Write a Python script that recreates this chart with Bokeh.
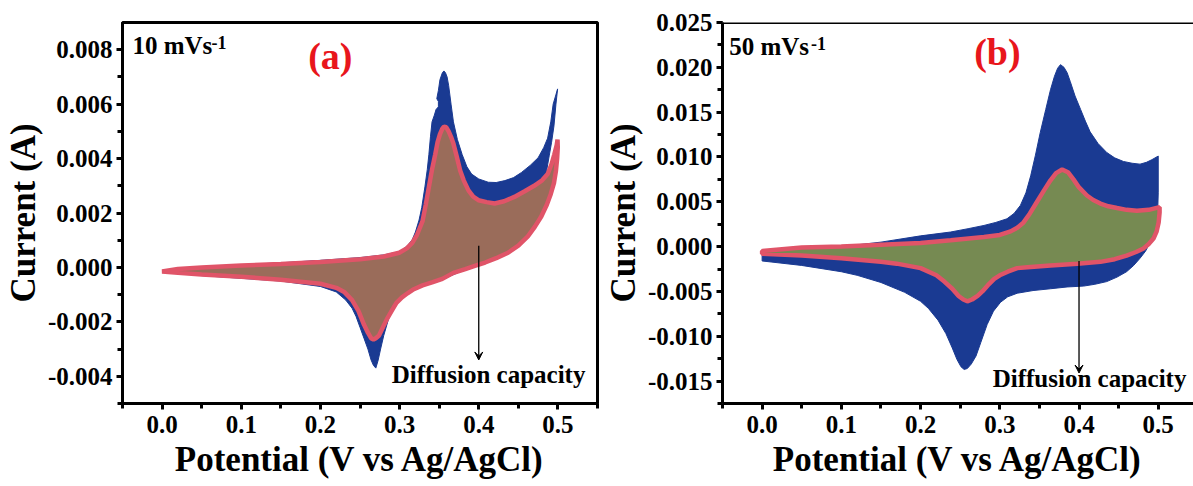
from bokeh.plotting import figure
from bokeh.layouts import row
from bokeh.models import (Range1d, SingleIntervalTicker, NumeralTickFormatter,
                          Label, Arrow, VeeHead, Span)
from bokeh.embed import file_html
from bokeh.resources import INLINE

# ---------------- data: panel (a) 10 mV/s ----------------
a_total_x = [0.0, 0.02, 0.05, 0.1, 0.15, 0.2, 0.25, 0.28, 0.30, 0.304, 0.31, 0.316, 0.32,
             0.3246, 0.328, 0.332, 0.335, 0.337, 0.339, 0.341, 0.344, 0.346, 0.349, 0.349,
             0.347, 0.349, 0.351, 0.354, 0.356, 0.358, 0.36, 0.362, 0.365, 0.368, 0.373,
             0.379, 0.385, 0.391, 0.40, 0.412, 0.422, 0.433, 0.444, 0.454, 0.465, 0.475,
             0.482, 0.487, 0.491, 0.494, 0.4996,
             0.4975, 0.495, 0.492, 0.489, 0.486, 0.482, 0.476, 0.462, 0.45, 0.437, 0.422,
             0.408, 0.383, 0.354, 0.33, 0.312, 0.305, 0.298, 0.292, 0.286, 0.28, 0.276,
             0.273, 0.27, 0.267, 0.264, 0.26, 0.255, 0.25, 0.245, 0.24, 0.232, 0.22, 0.2,
             0.15, 0.1, 0.05, 0.02, 0.0]
a_total_y = [-0.00018, -0.00008, 0.0, 0.0001, 0.00017, 0.00026, 0.00036, 0.00046, 0.00058,
             0.00066, 0.0008, 0.00102, 0.0013, 0.00174, 0.0022, 0.00296, 0.0036, 0.00415,
             0.0048, 0.00535, 0.0056, 0.0058, 0.0059, 0.0061, 0.0062, 0.0065, 0.0069,
             0.00715, 0.00722, 0.00715, 0.0070, 0.00668, 0.0060, 0.00535, 0.0047, 0.00415,
             0.0037, 0.00343, 0.00325, 0.00313, 0.00312, 0.00319, 0.0033, 0.00349, 0.00375,
             0.00403, 0.0044, 0.00475, 0.00535, 0.0060, 0.00656,
             0.0060, 0.0052, 0.0046, 0.0041, 0.0036, 0.0028, 0.0019, 0.0011, 0.0008,
             0.00052, 0.00032, 0.00016, -0.00008, -0.00044, -0.00068, -0.0009, -0.0010,
             -0.0012, -0.0015, -0.0019, -0.0025, -0.0030, -0.0034, -0.0037, -0.0036,
             -0.0034, -0.0030, -0.0026, -0.0022, -0.0018, -0.0015, -0.0012, -0.0009,
             -0.0007, -0.0005, -0.0004, -0.0003, -0.00022, -0.00018]
a_diff_x = [0.0, 0.02, 0.05, 0.1, 0.15, 0.2, 0.25, 0.28, 0.2996, 0.309, 0.316, 0.322, 0.329,
            0.333, 0.337, 0.341, 0.345, 0.348, 0.351, 0.354, 0.356, 0.359, 0.362, 0.365,
            0.368, 0.372, 0.3766, 0.381, 0.387, 0.393, 0.3996, 0.41, 0.42, 0.432, 0.445,
            0.458, 0.47, 0.48, 0.487, 0.492, 0.4954, 0.4985, 0.4995,
            0.4998, 0.499, 0.4975, 0.495, 0.491, 0.486, 0.479, 0.471, 0.462, 0.45, 0.437,
            0.422, 0.408, 0.395, 0.383, 0.368, 0.354, 0.341, 0.329, 0.318, 0.31, 0.303,
            0.296, 0.29, 0.284, 0.279, 0.274, 0.27, 0.267, 0.264, 0.26, 0.255, 0.248, 0.24,
            0.23, 0.22, 0.2, 0.15, 0.1, 0.05, 0.02, 0.0]
a_diff_y = [-0.00015, -0.00006, 0.0, 0.00007, 0.00013, 0.0002, 0.0003, 0.0004, 0.00054,
            0.0007, 0.0009, 0.0012, 0.0017, 0.0023, 0.00295, 0.0036, 0.00415, 0.0046,
            0.0049, 0.0051, 0.00517, 0.00515, 0.0050, 0.0048, 0.00455, 0.0041, 0.00355,
            0.0032, 0.00283, 0.0026, 0.00247, 0.0024, 0.00235, 0.00243, 0.00259, 0.0028,
            0.0030, 0.0032, 0.00343, 0.0038, 0.00415, 0.0045, 0.0047,
            0.0044, 0.0040, 0.00355, 0.0031, 0.0027, 0.0023, 0.00187, 0.0015, 0.00114,
            0.0008, 0.00054, 0.00034, 0.00018, 0.00006, -0.00006, -0.0002, -0.00042,
            -0.00055, -0.00066, -0.0008, -0.00095, -0.0011, -0.0013, -0.0016, -0.0019,
            -0.0022, -0.0025, -0.0026, -0.00265, -0.0026, -0.0024, -0.0021, -0.0016,
            -0.0012, -0.0009, -0.00075, -0.0006, -0.00045, -0.00034, -0.00026, -0.0002,
            -0.00015]

# ---------------- data: panel (b) 50 mV/s ----------------
b_total_x = [0.0, 0.05, 0.1, 0.15, 0.2, 0.238, 0.26, 0.28, 0.295, 0.309, 0.318, 0.326,
             0.333, 0.339, 0.345, 0.351, 0.358, 0.364, 0.369, 0.373, 0.3766, 0.381, 0.385,
             0.389, 0.395, 0.402, 0.408, 0.414, 0.424, 0.435, 0.445, 0.456, 0.467, 0.477,
             0.485, 0.492, 0.5,
             0.5, 0.4995, 0.498, 0.495, 0.49, 0.484, 0.477, 0.469, 0.46, 0.448, 0.435,
             0.42, 0.406, 0.385, 0.364, 0.342, 0.322, 0.31, 0.301, 0.292, 0.284, 0.276,
             0.27, 0.264, 0.259, 0.255, 0.251, 0.246, 0.24, 0.232, 0.222, 0.21, 0.2, 0.18,
             0.15, 0.12, 0.1, 0.05, 0.02, 0.0]
b_total_y = [-0.0009, -0.0004, 0.0, 0.0005, 0.0012, 0.00163, 0.0020, 0.00236, 0.0027,
             0.0031, 0.0037, 0.0046, 0.0060, 0.0079, 0.0102, 0.0127, 0.0153, 0.0175,
             0.0190, 0.0199, 0.0203, 0.0200, 0.0194, 0.0184, 0.0168, 0.0153, 0.0140,
             0.0128, 0.0115, 0.0105, 0.0099, 0.0095, 0.0093, 0.0092, 0.0094, 0.0097,
             0.0101,
             0.0060, 0.0045, 0.0027, 0.0015, 0.0005, -0.0005, -0.0013, -0.0021, -0.0028,
             -0.0034, -0.0039, -0.0042, -0.0044, -0.0045, -0.0047, -0.0049, -0.0052,
             -0.0056, -0.0062, -0.0072, -0.0087, -0.0107, -0.0122, -0.0131, -0.0136,
             -0.0137, -0.0134, -0.0126, -0.0113, -0.0097, -0.0082, -0.0069, -0.0061,
             -0.0051, -0.0040, -0.0032, -0.0028, -0.0021, -0.0018, -0.0016]
b_diff_x = [0.0, 0.05, 0.1, 0.15, 0.2, 0.238, 0.28, 0.30, 0.3136, 0.322, 0.33, 0.338,
            0.347, 0.356, 0.364, 0.371, 0.3787, 0.386, 0.393, 0.40, 0.41, 0.418, 0.427,
            0.437, 0.448, 0.46, 0.473, 0.488, 0.5017,
            0.5017, 0.5005, 0.498, 0.494, 0.488, 0.4815, 0.472, 0.46, 0.445, 0.427, 0.398,
            0.364, 0.335, 0.322, 0.31, 0.30, 0.293, 0.285, 0.278, 0.272, 0.265, 0.259,
            0.254, 0.248, 0.24, 0.23, 0.22, 0.2, 0.17, 0.15, 0.1, 0.05, 0.0]
b_diff_y = [-0.0005, -0.0001, 0.0, 0.0002, 0.0004, 0.0007, 0.00108, 0.0013, 0.0017,
            0.0021, 0.0027, 0.0037, 0.0050, 0.0063, 0.0074, 0.0082, 0.0086, 0.0083,
            0.0075, 0.0066, 0.0057, 0.0052, 0.0048, 0.0045, 0.0043, 0.0041, 0.0040,
            0.0041, 0.0044,
            0.0038, 0.0027, 0.0017, 0.0009, 0.0003, -0.0002, -0.0006, -0.0010, -0.0014,
            -0.0017, -0.0019, -0.0021, -0.0023, -0.0024, -0.0028, -0.0032, -0.0036,
            -0.0043, -0.0050, -0.0055, -0.0059, -0.0061, -0.0059, -0.0055, -0.0047,
            -0.0039, -0.0032, -0.0024, -0.0019, -0.0017, -0.0013, -0.0010, -0.0008]

x_label = "Potential (V vs Ag/AgCl)"
y_label = "Current (A)"
rate_a, rate_b = "10 mVs", "50 mVs"
tags = ["(a)", "(b)"]
note = "Diffusion capacity"

FONT = "Liberation Serif"
PINK = "#e05468"
BLUE = "#1a3a92"


def style(p, y_interval):
    p.xaxis.ticker = SingleIntervalTicker(interval=0.1, num_minor_ticks=2)
    p.yaxis.ticker = SingleIntervalTicker(interval=y_interval, num_minor_ticks=2)
    p.yaxis.formatter = NumeralTickFormatter(format="0.000")
    p.xaxis.formatter = NumeralTickFormatter(format="0.0")
    for ax in (p.xaxis[0], p.yaxis[0]):
        ax.axis_line_width = 3
        ax.axis_line_color = "black"
        ax.major_tick_line_width = 3
        ax.minor_tick_line_width = 3
        ax.major_tick_out = 6
        ax.major_tick_in = 0
        ax.minor_tick_out = 5
        ax.minor_tick_in = 0
        ax.major_label_text_font = FONT
        ax.major_label_text_font_style = "bold"
        ax.major_label_text_font_size = "25px"
        ax.major_label_text_color = "black"
        ax.axis_label_text_font = FONT
        ax.axis_label_text_font_style = "bold"
        ax.axis_label_text_font_size = "35px"
        ax.axis_label_text_color = "black"
    p.yaxis.major_label_standoff = 4
    p.xaxis.major_label_standoff = 6
    p.yaxis.axis_label_standoff = 2
    p.xaxis.axis_label_standoff = 4
    p.xaxis.axis_label = x_label
    p.yaxis.axis_label = y_label
    p.xgrid.visible = False
    p.ygrid.visible = False
    p.background_fill_color = "white"
    p.border_fill_color = "white"


# ---------------- panel (a) ----------------
p1 = figure(width=600, height=486, output_backend="svg", toolbar_location=None,
            x_range=Range1d(-0.05, 0.55), y_range=Range1d(-0.005, 0.009),
            min_border_left=117, min_border_right=3, min_border_top=15, min_border_bottom=83)
style(p1, 0.002)
p1.outline_line_color = "black"
p1.outline_line_width = 3
p1.outline_line_alpha = 1
p1.patch(a_total_x, a_total_y, fill_color=BLUE, line_color=BLUE, line_width=1)
p1.patch(a_diff_x, a_diff_y, fill_color="#9a6c5a", line_color=PINK, line_width=4.5)
p1.add_layout(Arrow(end=VeeHead(size=8, fill_color="black", line_color="black"),
                    x_start=0.4, y_start=0.0008, x_end=0.4, y_end=-0.0034,
                    line_width=1.3, line_color="black"))
p1.add_layout(Label(x=-0.0375, y=0.00765, text=rate_a, text_font=FONT,
                    text_font_style="bold", text_font_size="25px", text_color="black"))
p1.add_layout(Label(x=0.0625, y=0.00801, text="-1", text_font=FONT,
                    text_font_style="bold", text_font_size="18px", text_color="black"))
p1.add_layout(Label(x=0.2125, y=0.00776, text=tags[0], text_font=FONT, text_align="center",
                    text_baseline="middle", text_font_style="bold", text_font_size="38px",
                    text_color="#e8161c"))
p1.add_layout(Label(x=0.29, y=-0.00444, text=note, text_font=FONT,
                    text_font_style="bold", text_font_size="25px", text_color="black"))

# ---------------- panel (b) ----------------
p2 = figure(width=593, height=486, output_backend="svg", toolbar_location=None,
            x_range=Range1d(-0.05, 0.5445), y_range=Range1d(-0.0175, 0.025),
            min_border_left=121, min_border_right=0, min_border_top=22, min_border_bottom=79)
style(p2, 0.005)
p2.outline_line_color = None
p2.add_layout(Span(location=0.025, dimension="width", line_color="black", line_width=3))
p2.patch(b_total_x, b_total_y, fill_color=BLUE, line_color=BLUE, line_width=1)
p2.patch(b_diff_x, b_diff_y, fill_color="#768a52", line_color=PINK, line_width=4.5)
p2.add_layout(Arrow(end=VeeHead(size=8, fill_color="black", line_color="black"),
                    x_start=0.4, y_start=-0.0016, x_end=0.4, y_end=-0.0141,
                    line_width=1.3, line_color="black"))
p2.add_layout(Label(x=-0.0416, y=0.02084, text=rate_b, text_font=FONT,
                    text_font_style="bold", text_font_size="25px", text_color="black"))
p2.add_layout(Label(x=0.0617, y=0.02195, text="-1", text_font=FONT,
                    text_font_style="bold", text_font_size="18px", text_color="black"))
p2.add_layout(Label(x=0.297, y=0.02173, text=tags[1], text_font=FONT, text_align="center",
                    text_baseline="middle", text_font_style="bold", text_font_size="38px",
                    text_color="#e8161c"))
p2.add_layout(Label(x=0.291, y=-0.0162, text=note, text_font=FONT,
                    text_font_style="bold", text_font_size="25px", text_color="black"))

layout = row(p1, p2, spacing=0)
open("out.html", "w").write(file_html(layout, INLINE))
